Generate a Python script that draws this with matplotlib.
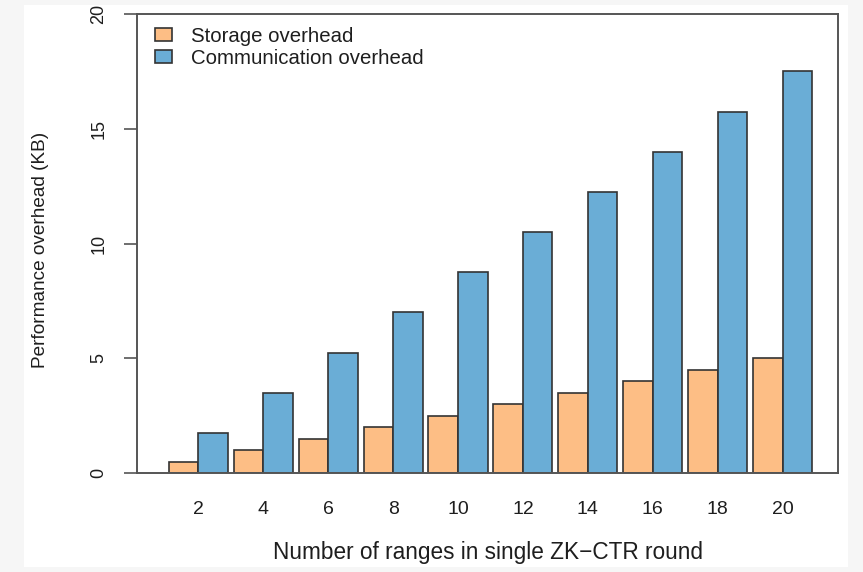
import matplotlib
matplotlib.use("Agg")
import matplotlib.pyplot as plt
from matplotlib.patches import Rectangle
import numpy as np

# Data
ranges = [2, 4, 6, 8, 10, 12, 14, 16, 18, 20]
storage_kb = [0.5, 1.0, 1.5, 2.0, 2.5, 3.0, 3.5, 4.0, 4.5, 5.0]
communication_kb = [1.75, 3.5, 5.25, 7.0, 8.75, 10.5, 12.25, 14.0, 15.75, 17.5]
series_names = ["Storage overhead", "Communication overhead"]
y_ticks = [0, 5, 10, 15, 20]

orange = "#FDBE85"
blue = "#6AADD6"
edge = "#333333"
axis_col = "#555555"
text_col = "#1e1e1e"

plt.rcParams["font.family"] = ["Liberation Sans", "DejaVu Sans"]

W, H = 863, 572
fig = plt.figure(figsize=(W / 100, H / 100), dpi=100, facecolor="#f6f6f6")
# white plotting page behind everything
fig.patches.append(Rectangle((24 / W, 5 / H), (848 - 24) / W, (567 - 5) / H,
                             transform=fig.transFigure, facecolor="white",
                             edgecolor="none", zorder=-10))

ax = fig.add_axes([137 / W, (572 - 473) / H, (838 - 137) / W, (473 - 14) / H])
ax.set_facecolor("white")

# grouped bars, barplot-style: bar width 1, gap 0.2 between groups
bar_w = 1.0
gap = 0.2
starts = gap + np.arange(len(ranges)) * (2 * bar_w + gap)
ax.bar(starts, storage_kb, width=bar_w, align="edge", color=orange,
       edgecolor=edge, linewidth=1.2, label=series_names[0], zorder=2)
ax.bar(starts + bar_w, communication_kb, width=bar_w, align="edge", color=blue,
       edgecolor=edge, linewidth=1.2, label=series_names[1], zorder=2)

ax.set_xlim(-0.88, 22.88)
ax.set_ylim(0, 20)

ax.set_xticks(starts + bar_w)
ax.set_xticklabels([str(r) for r in ranges], fontsize=14)
ax.tick_params(axis="x", length=0, pad=20, colors=text_col)

ax.set_yticks(y_ticks)
ax.set_yticklabels([str(t) for t in y_ticks], fontsize=13, rotation=90,
                   va="center")
ax.tick_params(axis="y", length=9.4, width=1.2, pad=12, color=axis_col,
               labelcolor=text_col)

for s in ax.spines.values():
    s.set_color(axis_col)
    s.set_linewidth(1.4)

ax.set_xlabel("Number of ranges in single ZK\u2212CTR round", fontsize=16.3,
              color=text_col, labelpad=17)
ax.set_ylabel("Performance overhead (KB)", fontsize=13.7, color=text_col)
ax.yaxis.set_label_coords(-0.125, 0.485)

leg = ax.legend(loc="upper left", frameon=False, fontsize=14.7,
                handlelength=0.85, handleheight=0.6, handletextpad=0.9,
                labelspacing=0.15, borderaxespad=0.3,
                bbox_to_anchor=(0.005, 1.003))
for t in leg.get_texts():
    t.set_color(text_col)

fig.savefig("out.png", dpi=100, facecolor=fig.get_facecolor())
